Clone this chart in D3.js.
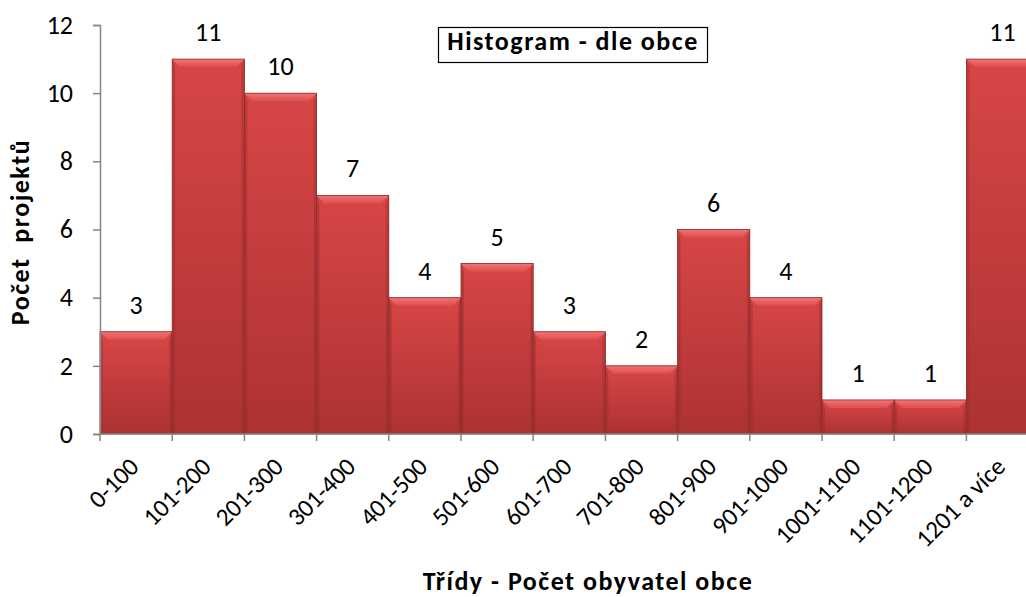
<!DOCTYPE html>
<html>
<head>
<meta charset="utf-8">
<script src="https://cdn.jsdelivr.net/npm/d3@7"></script>
<style>
  html, body { margin: 0; padding: 0; background: #fff; }
  svg { display: block; font-family: Calibri, Carlito, Lato, 'Open Sans', sans-serif; }
</style>
</head>
<body>
<svg id="chart" width="1026" height="597"></svg>
<script>
const categories = ['0-100', '101-200', '201-300', '301-400', '401-500', '501-600', '601-700',
  '701-800', '801-900', '901-1000', '1001-1100', '1101-1200', '1201 a více']
const counts = [3, 11, 10, 7, 4, 5, 3, 2, 6, 4, 1, 1, 11]
const yTicks = [0, 2, 4, 6, 8, 10, 12]

const title = 'Histogram - dle obce'
const xTitle = 'Třídy - Počet obyvatel obce'
const yTitle = 'Počet  projektů'

const svg = d3.select('#chart')
const margin = { left: 100, top: 25, bottom: 434 }
const bandW = 72.2
const fs = 26 // y ticks + value labels
const fsX = 25 // rotated category labels
const fsBold = 26 // titles
const lsBold = 1.5

const xScale = d3.scaleBand()
  .domain(categories)
  .range([margin.left, margin.left + bandW * categories.length])
  .padding(0)

const yScale = d3.scaleLinear()
  .domain([0, 12])
  .range([margin.bottom, margin.top])

// gradients for the bevelled bars
const defs = svg.append('defs')
const body = defs.append('linearGradient').attr('id', 'barBody')
  .attr('x1', 0).attr('y1', 0).attr('x2', 0).attr('y2', 1)
body.append('stop').attr('offset', '0%').attr('stop-color', '#d84646')
body.append('stop').attr('offset', '100%').attr('stop-color', '#ad3232')
const topG = defs.append('linearGradient').attr('id', 'barTop')
  .attr('x1', 0).attr('y1', 0).attr('x2', 0).attr('y2', 1)
topG.append('stop').attr('offset', '0%').attr('stop-color', '#f47474')
topG.append('stop').attr('offset', '100%').attr('stop-color', '#dc4e4e')

const bevel = 8
const bars = svg.append('g')
  .selectAll('g')
  .data(categories.map((c, i) => ({ cat: c, v: counts[i] })))
  .join('g')

bars.append('rect')
  .attr('x', (d) => xScale(d.cat))
  .attr('y', (d) => yScale(d.v))
  .attr('width', xScale.bandwidth())
  .attr('height', (d) => yScale(0) - yScale(d.v))
  .attr('fill', 'url(#barBody)')

// side bevels (slightly darker)
bars.append('path')
  .attr('d', (d) => {
    const x0 = xScale(d.cat), x1 = x0 + xScale.bandwidth()
    const y0 = yScale(d.v), y1 = yScale(0)
    return `M${x0},${y0}L${x0 + 3},${y0 + bevel}L${x0 + 3},${y1 - 2}L${x0},${y1}Z` +
      `M${x1},${y0}L${x1 - 3},${y0 + bevel}L${x1 - 3},${y1 - 2}L${x1},${y1}Z`
  })
  .attr('fill', '#9a2c2c')
  .attr('opacity', 0.45)

// top bevel (lighter)
bars.append('path')
  .attr('d', (d) => {
    const x0 = xScale(d.cat), x1 = x0 + xScale.bandwidth()
    const y0 = yScale(d.v)
    return `M${x0},${y0}L${x1},${y0}L${x1 - bevel},${y0 + bevel}L${x0 + bevel},${y0 + bevel}Z`
  })
  .attr('fill', 'url(#barTop)')

bars.append('rect')
  .attr('x', (d) => xScale(d.cat))
  .attr('y', (d) => yScale(d.v))
  .attr('width', xScale.bandwidth())
  .attr('height', (d) => yScale(0) - yScale(d.v))
  .attr('fill', 'none')
  .attr('stroke', '#8a2a2a')
  .attr('stroke-width', 0.8)

// value labels
bars.append('text')
  .attr('x', (d) => xScale(d.cat) + xScale.bandwidth() / 2)
  .attr('y', (d) => yScale(d.v) - 18)
  .attr('text-anchor', 'middle')
  .attr('font-size', fs)
  .attr('fill', '#000')
  .text((d) => d.v)

// y axis
const yAxis = svg.append('g')
  .attr('transform', `translate(${margin.left},0)`)
  .call(d3.axisLeft(yScale).tickValues(yTicks).tickSize(7).tickPadding(20))
yAxis.select('.domain').attr('stroke', '#868686').attr('stroke-width', 1.5)
yAxis.selectAll('.tick line').attr('stroke', '#868686').attr('stroke-width', 1.5)
yAxis.selectAll('.tick text').attr('font-size', fs).attr('fill', '#000')
  .attr('font-family', 'Calibri, Carlito, Lato, sans-serif')

// x axis: ticks on band edges
const edges = categories.map((c) => xScale(c)).concat([xScale.range()[1]])
const xAxis = svg.append('g')
xAxis.append('line')
  .attr('x1', margin.left).attr('x2', xScale.range()[1])
  .attr('y1', yScale(0)).attr('y2', yScale(0))
  .attr('stroke', '#868686').attr('stroke-width', 1.5)
xAxis.selectAll('.xt').data(edges).join('line')
  .attr('x1', (d) => d).attr('x2', (d) => d)
  .attr('y1', yScale(0)).attr('y2', yScale(0) + 7)
  .attr('stroke', '#868686').attr('stroke-width', 1.5)
xAxis.selectAll('.xl').data(categories).join('text')
  .attr('transform', (d) => `translate(${xScale(d) + xScale.bandwidth() / 2 - 2},${yScale(0) + 28}) rotate(-45)`)
  .attr('text-anchor', 'end')
  .attr('dy', '0.35em')
  .attr('font-size', fsX)
  .attr('fill', '#000')
  .text((d) => d)

// axis titles
svg.append('text')
  .attr('x', 588).attr('y', 590)
  .attr('text-anchor', 'middle')
  .attr('font-size', fsBold).attr('font-weight', 'bold')
  .attr('letter-spacing', lsBold)
  .text(xTitle)

svg.append('text')
  .attr('transform', 'translate(29,232) rotate(-90)')
  .attr('text-anchor', 'middle')
  .attr('font-size', fsBold).attr('font-weight', 'bold')
  .attr('letter-spacing', lsBold)
  .style('white-space', 'pre')
  .text(yTitle)

// chart title box
const tg = svg.append('g')
tg.append('rect')
  .attr('x', 438.5).attr('y', 27.5).attr('width', 269).attr('height', 35)
  .attr('fill', '#fff').attr('stroke', '#000').attr('stroke-width', 1.2)
tg.append('text')
  .attr('x', 573).attr('y', 50)
  .attr('text-anchor', 'middle')
  .attr('font-size', fsBold).attr('font-weight', 'bold')
  .attr('letter-spacing', lsBold)
  .text(title)
</script>
</body>
</html>
